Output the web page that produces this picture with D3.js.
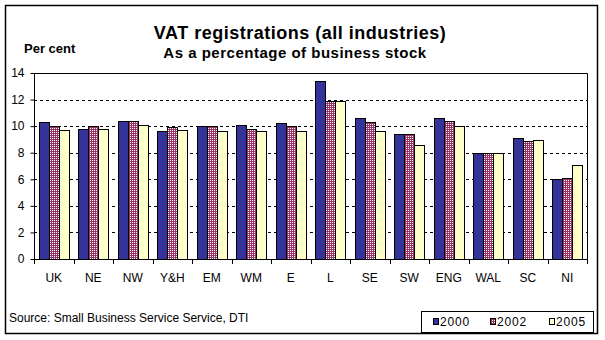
<!DOCTYPE html>
<html><head><meta charset="utf-8">
<script src="https://cdn.jsdelivr.net/npm/d3@7"></script>
<style>
body{margin:0;background:#fff;}
text{font-family:Arial,"Liberation Sans",sans-serif;fill:#000;}
</style></head>
<body><svg id="c" width="605" height="340"></svg>
<script>
const categories = ["UK","NE","NW","Y&H","EM","WM","E","L","SE","SW","ENG","WAL","SC","NI"];
const series = ["2000","2002","2005"];
const v2000 = [10.3,9.8,10.4,9.6,10.0,10.1,10.2,13.4,10.6,9.4,10.6,8.0,9.1,6.0];
const v2002 = [10.0,10.0,10.4,9.9,10.0,9.8,10.0,11.9,10.3,9.4,10.4,8.0,8.85,6.1];
const v2005 = [9.7,9.8,10.1,9.7,9.6,9.6,9.6,11.9,9.6,8.6,10.0,7.95,8.95,7.05];
const yTicks = [0,2,4,6,8,10,12,14];

const values = {"2000":v2000,"2002":v2002,"2005":v2005};
const fills = {"2000":"#333399","2002":"url(#chk)","2005":"#FFFFCC"};

const svg = d3.select("#c");
const defs = svg.append("defs");
const pat = defs.append("pattern").attr("id","chk").attr("width",2).attr("height",2)
  .attr("patternUnits","userSpaceOnUse");
pat.append("rect").attr("width",2).attr("height",2).attr("fill","#993366").attr("shape-rendering","crispEdges");
pat.append("rect").attr("x",0).attr("y",0).attr("width",1).attr("height",1).attr("fill","#fff").attr("shape-rendering","crispEdges");

// outer border
svg.append("rect").attr("x",5.5).attr("y",5.5).attr("width",592).attr("height",328)
  .attr("fill","none").attr("stroke","#000").attr("stroke-width",1.5);

const L=34, R=587, T=73, B=259;
const x0 = d3.scaleBand().domain(categories).range([L,R]).paddingInner(0).paddingOuter(0);
const bw = x0.bandwidth();
const gw = bw*0.76;
const x1 = d3.scaleBand().domain(series).range([0,gw]);
const y = d3.scaleLinear().domain([0,14]).range([B,T]);

// gridlines
svg.append("g").selectAll("line").data(yTicks.filter(t=>t>0 && t<14)).join("line")
  .attr("x1",L).attr("x2",R).attr("y1",d=>Math.round(y(d))+0.5).attr("y2",d=>Math.round(y(d))+0.5)
  .attr("stroke","#000").attr("stroke-dasharray","3,3");

// plot frame top & right
svg.append("path").attr("d",`M${L},${T+0.5}H${R+0.5}V${B}`).attr("fill","none").attr("stroke","#000");

// bars
const g = svg.append("g").attr("shape-rendering","crispEdges");
categories.forEach((c,i)=>{
  series.forEach(s=>{
    const v = values[s][i];
    g.append("rect")
      .attr("x", Math.round(x0(c)+(bw-gw)/2 + x1(s))+0.5)
      .attr("y", Math.round(y(v))+0.5)
      .attr("width", Math.round(x1.bandwidth()))
      .attr("height", Math.round(y(0))-Math.round(y(v)))
      .attr("fill", fills[s]).attr("stroke","#000").attr("stroke-width",1);
  });
});

// y axis
const ya = svg.append("g").attr("transform",`translate(${L+0.5},0)`)
  .call(d3.axisLeft(y).tickValues(yTicks).tickSize(4).tickPadding(6).tickFormat(d3.format("d")));
ya.select(".domain").attr("stroke","#000").attr("d",`M0,${T}V${B}`);
ya.selectAll("text").style("font-size","12px").attr("fill","#000");

// x axis
svg.append("line").attr("x1",L).attr("x2",R+0.5).attr("y1",B+0.5).attr("y2",B+0.5).attr("stroke","#000");
const bounds = categories.map(c=>x0(c)).concat([R]);
svg.append("g").selectAll("line").data(bounds).join("line")
  .attr("x1",d=>Math.round(d)+0.5).attr("x2",d=>Math.round(d)+0.5)
  .attr("y1",B).attr("y2",B+5).attr("stroke","#000");
svg.append("g").selectAll("text").data(categories).join("text")
  .attr("x",d=>x0(d)+bw/2).attr("y",B+23).attr("text-anchor","middle")
  .style("font-size","12px").text(d=>d);

// titles
svg.append("text").attr("x",300).attr("y",39).attr("text-anchor","middle")
  .style("font-size","18px").style("font-weight","bold").style("letter-spacing","0.5px")
  .text("VAT registrations (all industries)");
svg.append("text").attr("x",295).attr("y",58).attr("text-anchor","middle")
  .style("font-size","15px").style("font-weight","bold").style("letter-spacing","0.5px")
  .text("As a percentage of business stock");
svg.append("text").attr("x",24).attr("y",53)
  .style("font-size","13px").style("font-weight","bold").text("Per cent");

// source
svg.append("text").attr("x",9).attr("y",322).style("font-size","12px")
  .text("Source: Small Business Service Service, DTI");

// legend
svg.append("rect").attr("x",421.5).attr("y",311.5).attr("width",172).attr("height",21)
  .attr("fill","#fff").attr("stroke","#000");
const lx = [433,490,549];
series.forEach((s,i)=>{
  svg.append("rect").attr("x",lx[i]+0.5).attr("y",318.5).attr("width",5).attr("height",6)
    .attr("fill",fills[s]).attr("stroke","#000").attr("shape-rendering","crispEdges");
  svg.append("text").attr("x",lx[i]+7).attr("y",326).style("font-size","12px")
    .style("letter-spacing","0.8px").text(s);
});
</script></body></html>
